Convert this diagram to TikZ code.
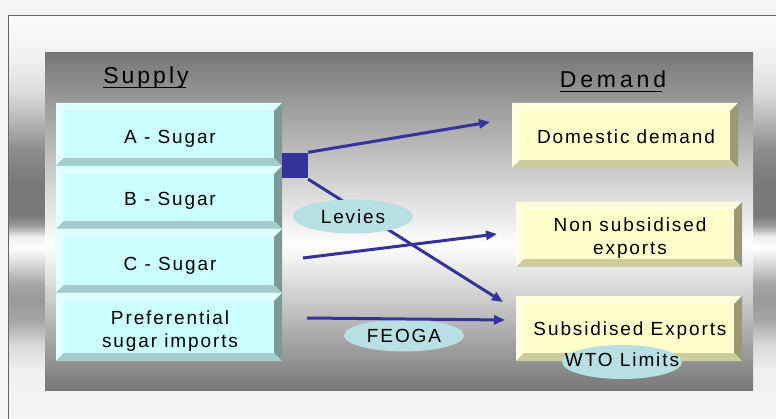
\documentclass[tikz,border=0pt]{standalone}
\usepackage{fontspec}
\setmainfont{Liberation Sans}[LetterSpace=10]
\newfontfamily\headfont{Liberation Sans}[LetterSpace=13]
\newfontfamily\headfontw{Liberation Sans}[LetterSpace=17]
\usetikzlibrary{arrows.meta,shapes.geometric}
\definecolor{bgc}{HTML}{F5F5F5}
\definecolor{framec}{HTML}{666666}
\definecolor{panc}{HTML}{777777}
\definecolor{cyF}{HTML}{CCFFFF}
\definecolor{cyL}{HTML}{E4FFFF}
\definecolor{cyT}{HTML}{DDFFFF}
\definecolor{cyR}{HTML}{7A9999}
\definecolor{cyB}{HTML}{A3CCCC}
\definecolor{yeF}{HTML}{FFFFCC}
\definecolor{yeL}{HTML}{FFFFE4}
\definecolor{yeT}{HTML}{FFFFDD}
\definecolor{yeR}{HTML}{999977}
\definecolor{yeB}{HTML}{CCCC9E}
\definecolor{arc}{HTML}{333399}
\definecolor{elc}{HTML}{B8E0E4}
\pgfdeclareverticalshading{framesh}{100bp}{gray(0bp)=(0.96); gray(25bp)=(0.96);
  gray(31.07bp)=(0.94); gray(34.17bp)=(0.85); gray(37.27bp)=(0.65); gray(39.74bp)=(0.60);
  gray(41.85bp)=(0.66); gray(44.45bp)=(0.87); gray(46.19bp)=(1.0); gray(47.55bp)=(0.94);
  gray(49.04bp)=(0.6); gray(50.28bp)=(0.47); gray(54bp)=(0.47); gray(58.33bp)=(0.55);
  gray(62.05bp)=(0.72); gray(65.77bp)=(0.87); gray(69.49bp)=(0.94); gray(75bp)=(0.99);
  gray(100bp)=(0.99)}
\pgfdeclareverticalshading{panelsh}{100bp}{gray(0bp)=(0.467); gray(25bp)=(0.467);
  gray(46.5bp)=(1.0); gray(75bp)=(0.467); gray(100bp)=(0.467)}
% #1 name, #2 x1, #3 y1, #4 x2, #5 y2, #6 palette, #7 text y, #8 anchor, #9 text
\newcommand\bevbox[9]{%
  \fill[#6L] (#2,#3) -- (#2+8,#3+8) -- (#2+8,#5-8) -- (#2,#5) -- cycle;
  \fill[#6T] (#2,#3) -- (#4,#3) -- (#4-8,#3+8) -- (#2+8,#3+8) -- cycle;
  \fill[#6R] (#4,#3) -- (#4,#5) -- (#4-8,#5-8) -- (#4-8,#3+8) -- cycle;
  \fill[#6B] (#2,#5) -- (#4,#5) -- (#4-8,#5-8) -- (#2+8,#5-8) -- cycle;
  \fill[#6F] (#2+8,#3+8) rectangle (#4-8,#5-8);
  \node[boxtext,anchor=#8] (#1) at ({(#2+#4)/2+1},#7) {#9};
}
\begin{document}
\begin{tikzpicture}[x=1pt,y=-1pt,
  boxtext/.style={align=center,inner sep=0pt,font=\fontsize{19}{23.2}\selectfont},
  oval/.style={ellipse,fill=elc,minimum width=120pt,minimum height=34pt,inner sep=0pt,font=\fontsize{19}{23.2}\selectfont},
  flow/.style={draw=arc,line width=3pt,-{Triangle[length=11pt,width=9pt]}},
  head/.style={inner sep=0pt,anchor=base,font=\fontsize{23}{26}\selectfont}]
\useasboundingbox (0,0) rectangle (776,419);
\fill[bgc] (0,0) rectangle (776,419);
% outer frame
\shade[shading=framesh] (8.7,15.5) rectangle (776,419);
\draw[framec,line width=1.5pt] (8.7,419) -- (8.7,15.5) -- (776,15.5);
% panel
\shade[shading=panelsh] (45,53) rectangle (753,390);
% headings
\node[head] (supply) at (146,83.5) {\headfont Supply};
\draw[black,line width=1.5pt] ([yshift=-4pt]supply.base west) -- ([yshift=-4pt,xshift=-3pt]supply.base east);
\node[head] (demand) at (613,88) {\headfontw Demand};
\draw[black,line width=1.5pt] ([yshift=-3.5pt]demand.base west) -- ([yshift=-3.5pt,xshift=-4pt]demand.base east);
% supply boxes
\bevbox{a}{56}{103}{282}{166}{cy}{144}{base}{A - Sugar}
\bevbox{b}{56}{166}{282}{229}{cy}{205.7}{base}{B - Sugar}
\bevbox{c}{56}{229}{282}{293}{cy}{271}{base}{C - Sugar}
\bevbox{p}{56}{293}{282}{361}{cy}{331}{center}{Preferential\\sugar imports}
% demand boxes
\bevbox{dom}{512}{103}{738}{168}{ye}{143.3}{base}{Domestic demand}
\bevbox{non}{516}{202}{742}{267}{ye}{238}{center}{Non subsidised\\exports}
\bevbox{sub}{516}{296}{742}{361}{ye}{336}{base}{Subsidised Exports}
% square
\node[fill=arc,minimum width=26pt,minimum height=25pt,inner sep=0pt] (sq) at (295,165.5) {};
% coordinates
\coordinate (t1) at (490,122);
\coordinate (t2) at (503,302);
\coordinate (s3) at (303,258);
\coordinate (t3) at (497,234);
\coordinate (s4) at (307,318);
\coordinate (t4) at (505,320);
% arrows
\draw[flow] ([yshift=0.5pt]sq.north east) -- (t1);
\draw[flow] ([yshift=-1pt]sq.south east) -- (t2);
\draw[flow] (s3) -- (t3);
\node[oval] (levies) at (353,216.5) {\makebox[0pt]{Levies}};
\node[oval,minimum height=32pt] (feoga) at (404,335.5) {\makebox[0pt]{FEOGA}};
\draw[flow] (s4) -- (t4);
\node[oval,text depth=4pt] (wto) at (622,362) {\makebox[0pt]{WTO Limits}};
\end{tikzpicture}
\end{document}
